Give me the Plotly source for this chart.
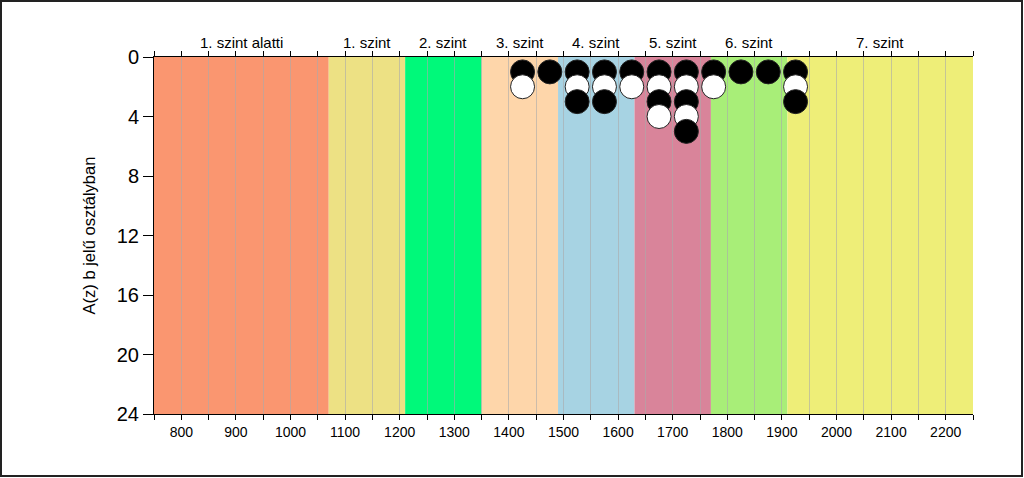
import plotly.graph_objects as go

# Band (level) definitions
band_names = ["1. szint alatti", "1. szint", "2. szint", "3. szint", "4. szint",
              "5. szint", "6. szint", "7. szint"]
band_start = [750, 1070, 1210, 1350, 1490, 1630, 1770, 1910]
band_end = [1070, 1210, 1350, 1490, 1630, 1770, 1910, 2250]
band_colors = ["#FA9670", "#EDE184", "#00F97A", "#FED6AA", "#A7D3E3",
               "#D9849A", "#A8EE78", "#EEEE78"]

# Students (dots): x = score bin, y = stack position, fill colour
dot_x = [1425, 1425,
         1475,
         1525, 1525, 1525,
         1575, 1575, 1575,
         1625, 1625,
         1675, 1675, 1675, 1675,
         1725, 1725, 1725, 1725, 1725,
         1775, 1775,
         1825,
         1875,
         1925, 1925, 1925]
dot_y = [1, 2,
         1,
         1, 2, 3,
         1, 2, 3,
         1, 2,
         1, 2, 3, 4,
         1, 2, 3, 4, 5,
         1, 2,
         1,
         1,
         1, 2, 3]
dot_fill = ["black", "white",
            "black",
            "black", "white", "black",
            "black", "white", "black",
            "black", "white",
            "black", "white", "black", "white",
            "black", "white", "black", "white", "black",
            "black", "white",
            "black",
            "black",
            "black", "white", "black"]

y_ticks = [0, 4, 8, 12, 16, 20, 24]

FONT = "Liberation Sans, Arial"

fig = go.Figure()

for name, x0, x1, c in zip(band_names, band_start, band_end, band_colors):
    fig.add_shape(type="rect", xref="x", yref="y", x0=x0, x1=x1, y0=0, y1=24,
                  fillcolor=c, line=dict(width=0), layer="below")
    fig.add_annotation(x=(x0 + x1) / 2, y=1, xref="x", yref="paper",
                       text=name, showarrow=False, yanchor="bottom", yshift=4,
                       font=dict(size=15, color="black", family=FONT))

fig.add_trace(go.Scatter(
    x=dot_x, y=dot_y, mode="markers",
    marker=dict(size=24, color=dot_fill, line=dict(color="#222222", width=1)),
    showlegend=False, hoverinfo="x+y",
))

# outer frame
fig.add_shape(type="rect", xref="paper", yref="paper",
              x0=(1 - 154) / 819, x1=(1022 - 154) / 819,
              y0=(414 - 476) / 357, y1=(414 - 1) / 357,
              line=dict(color="#222222", width=2), fillcolor="rgba(0,0,0,0)")

fig.update_xaxes(
    range=[750, 2250], tick0=800, dtick=100,
    ticks="outside", ticklen=5, tickcolor="black",
    showline=True, linecolor="black", linewidth=1, mirror="ticks",
    showgrid=True, gridcolor="rgba(170,170,170,0.6)", gridwidth=1,
    minor=dict(dtick=50, tick0=750, ticks="outside", ticklen=5, tickcolor="black",
               showgrid=True, gridcolor="rgba(170,170,170,0.6)", gridwidth=1),
    tickfont=dict(size=14, color="black", family=FONT),
    zeroline=False,
)
fig.update_yaxes(
    range=[24, 0], tickvals=y_ticks,
    ticks="outside", ticklen=10, tickcolor="black",
    showline=True, linecolor="black", linewidth=1,
    showgrid=False, zeroline=False,
    tickfont=dict(size=20, color="black", family=FONT),
    title=dict(text="A(z) b jelű osztályban", standoff=16,
               font=dict(size=16.5, color="black", family=FONT)),
)

fig.update_layout(
    width=1024, height=478,
    margin=dict(l=154, r=51, t=57, b=64),
    paper_bgcolor="white", plot_bgcolor="white",
    showlegend=False,
)

fig.write_html("out.html", config={"displayModeBar": False},
               post_script="document.body.style.margin='0';document.body.style.overflow='hidden';")
